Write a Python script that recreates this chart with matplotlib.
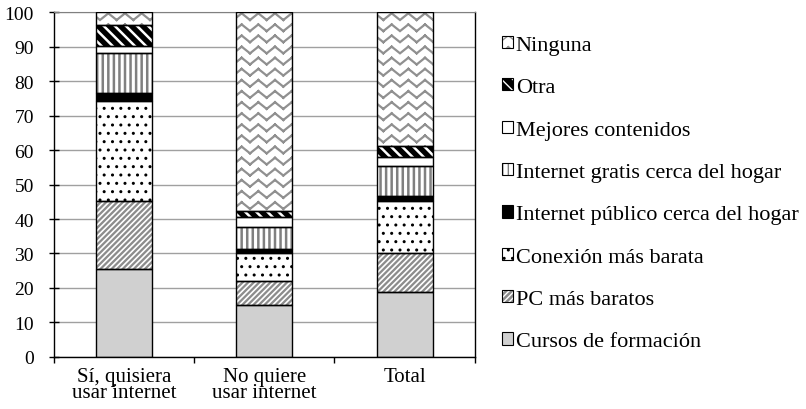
import numpy as np
import matplotlib
matplotlib.use('Agg')
import matplotlib.pyplot as plt
import matplotlib.hatch as mhatch
from matplotlib.path import Path
from matplotlib.patches import Patch

# zigzag hatch used for "Ninguna" (replaces the plain '-' hatch)
class ZigZagHatch(mhatch.HatchPatternBase):
    def __init__(self, hatch, density):
        self.rows = int(hatch.count('-') * density * 1.5)
        self.teeth = 12
        self.num_vertices = self.rows * self.teeth * 2

    def set_vertices_and_codes(self, vertices, codes):
        xs = np.linspace(0, 1, self.teeth + 1)
        amp = 0.3 / max(self.rows, 1)
        k = 0
        for i in range(self.rows):
            y0 = (i + 0.5) / self.rows
            for j in range(self.teeth):
                s = -1 if j % 2 == 0 else 1
                vertices[k] = (xs[j], y0 + s * amp)
                vertices[k + 1] = (xs[j + 1], y0 - s * amp)
                codes[k] = Path.MOVETO
                codes[k + 1] = Path.LINETO
                k += 2

mhatch._hatch_types = [ZigZagHatch if c is mhatch.HorizontalHatch else c
                       for c in mhatch._hatch_types]

plt.rcParams['font.family'] = ['Liberation Serif', 'DejaVu Serif']

# Data
groups = ['Sí, quisiera\nusar internet', 'No quiere\nusar internet', 'Total']
series = ['Cursos de formación', 'PC más baratos', 'Conexión más barata',
          'Internet público cerca del hogar', 'Internet gratis cerca del hogar',
          'Mejores contenidos', 'Otra', 'Ninguna']
cursos = [25.5, 15.0, 18.7]
pc = [19.8, 7.0, 11.3]
conexion = [28.8, 8.0, 15.3]
publico = [2.4, 1.2, 1.5]
gratis = [11.6, 6.5, 8.7]
mejores = [2.0, 3.0, 2.6]
otra = [6.1, 1.7, 3.2]
ninguna = [3.8, 57.6, 38.7]
values = [cursos, pc, conexion, publico, gratis, mejores, otra, ninguna]

# (face, hatch, hatch colour, hatch width)
styles = [
    ('#d0d0d0', None, '#d0d0d0', 1.0),
    ('#8c8c8c', '//////', 'white', 1.2),
    ('white', '..', 'black', 1.0),
    ('black', None, 'black', 1.0),
    ('white', '|||', '#808080', 1.8),
    ('white', None, 'white', 1.0),
    ('black', '\\\\\\', 'white', 1.8),
    ('white', '-', '#909090', 1.6),
]

fig = plt.figure(figsize=(8.06, 4.10), dpi=100)
ax = fig.add_axes([0.067, 0.127, 0.522, 0.841])

x = np.arange(len(groups))
width = 0.4
bottom = np.zeros(len(groups))
for vals, (fc, hatch, hc, hlw) in zip(values, styles):
    vals = np.array(vals)
    with plt.rc_context({'hatch.linewidth': hlw}):
        bars = ax.bar(x, vals, width, bottom=bottom, color=fc, edgecolor=hc,
                      hatch=hatch, linewidth=0, zorder=2)
    for b in bars:
        if hasattr(b, 'set_hatch_linewidth'):
            b.set_hatch_linewidth(hlw)
    ax.bar(x, vals, width, bottom=bottom, fill=False, edgecolor='black',
           linewidth=1.0, zorder=3)
    bottom += vals

ax.set_xlim(-0.5, 2.5)
ax.set_ylim(0, 100)
ax.set_yticks(range(0, 101, 10))
ax.yaxis.grid(True, color='#a0a0a0', linewidth=1.0, zorder=0)
ax.set_axisbelow(True)
ax.set_xticks(x)
ax.set_xticklabels(groups, fontsize=15, linespacing=0.8)
ax.set_xticks([-0.5, 0.5, 1.5, 2.5], minor=True)
ax.tick_params(axis='x', which='major', length=0, pad=7)
ax.tick_params(axis='x', which='minor', length=4, direction='out', width=1)
ax.tick_params(axis='y', labelsize=14, length=7, direction='inout', width=1, pad=11)
for s in ['left', 'bottom', 'right']:
    ax.spines[s].set_color('black')
    ax.spines[s].set_linewidth(1.0)
ax.spines['top'].set_color('#808080')

handles = []
for name, (fc, hatch, hc, hlw) in zip(series, styles):
    with plt.rc_context({'hatch.linewidth': hlw}):
        inner = Patch(facecolor=fc, edgecolor=hc, hatch=hatch, linewidth=0)
    outer = Patch(facecolor='none', edgecolor='black', linewidth=0.8)
    handles.append((inner, outer))
fig.legend(handles[::-1], series[::-1], loc='upper left',
           bbox_to_anchor=(0.623, 0.910), frameon=False, fontsize=16,
           handlelength=0.47, handleheight=0.47, handletextpad=0.14,
           labelspacing=1.05, borderaxespad=0, borderpad=0)

fig.savefig('out.png', dpi=100)
